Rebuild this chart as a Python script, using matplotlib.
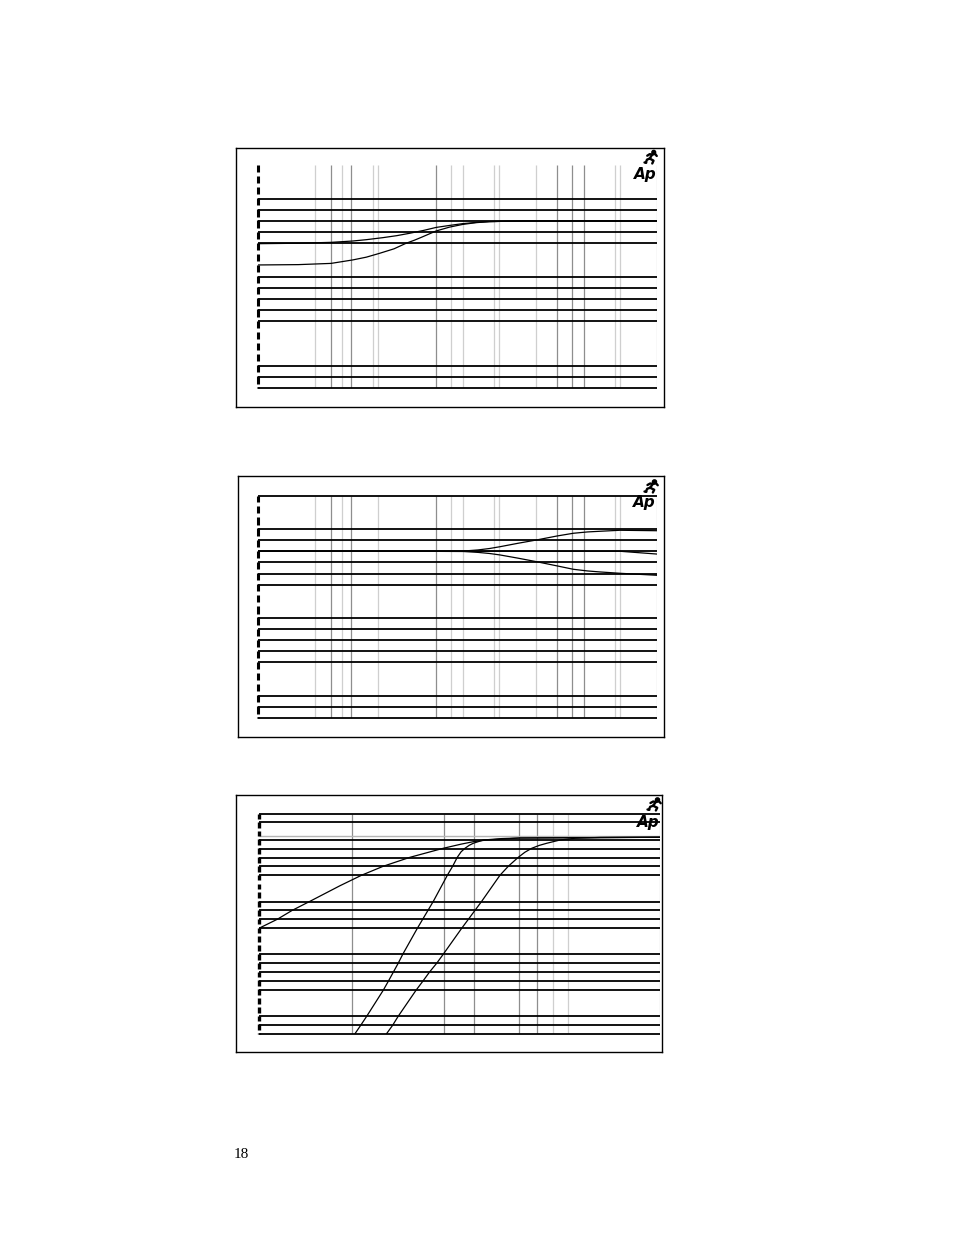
import matplotlib
matplotlib.use('Agg')
import matplotlib.pyplot as plt
import numpy as np

# ---- data (frequency in Hz, level in dB) ----
# panel 1: two low-frequency roll-off curves
p1_freq_a = [20, 40, 70.5, 102.6, 130, 172.6, 220, 274, 350, 435, 550, 690, 870, 1094, 1500, 2000, 20000]
p1_db_a = [-2.04, -2.0, -1.92, -1.80, -1.68, -1.50, -1.32, -1.11, -0.85, -0.58, -0.40, -0.24, -0.13,
           -0.06, -0.02, 0.0, 0.0]
p1_freq_b = [20, 40, 70.5, 102.6, 130, 163, 210, 258, 300, 340, 435, 550, 690, 870, 1094, 1500, 2000, 20000]
p1_db_b = [-3.95, -3.92, -3.81, -3.50, -3.25, -2.91, -2.5, -2.01, -1.72, -1.45, -0.90, -0.55, -0.31,
           -0.15, -0.06, -0.02, 0.0, 0.0]

# panel 2: high shelf boost / flat / cut
p2_freq = [20, 329, 697, 900, 1100, 1317, 1800, 2488, 3556, 4692, 6000, 7448, 10536, 20000]
p2_db_up = [0, 0, 0.02, 0.12, 0.25, 0.41, 0.72, 1.02, 1.38, 1.62, 1.74, 1.80, 1.89, 1.85]
p2_db_down = [0, 0, -0.02, -0.1, -0.2, -0.33, -0.62, -0.94, -1.32, -1.62, -1.77, -1.86, -1.98, -2.16]
p2_freq_flat = [20, 10536, 20000]
p2_db_flat = [0, 0, -0.25]

# panel 3: three high-pass curves
p3_freq_1 = [20, 27.4, 35.5, 48.1, 80.7, 117, 170, 270, 478, 650, 802, 1010, 1794, 20000]
p3_db_1 = [-10.53, -9.51, -8.49, -7.47, -5.70, -4.51, -3.49, -2.47, -1.45, -0.98, -0.70, -0.51, -0.28, -0.2]
p3_freq_2 = [104.5, 115.4, 127.9, 170, 185.5, 202, 220, 238, 306, 403, 513, 562, 609, 650, 695, 750, 802, 953,
             1300, 1794, 20000]
p3_db_2 = [-22.5, -21.54, -20.52, -17.57, -16.55, -15.53, -14.50, -13.48, -10.53, -7.47, -4.51, -3.49,
           -2.47, -1.85, -1.45, -1.1, -0.88, -0.51, -0.35, -0.28, -0.2]
p3_freq_3 = [180, 200, 220, 299, 336, 376, 427, 478, 657, 927, 1270, 1466, 1742, 1950, 2194, 2500, 2841, 3572,
             4626, 7114, 20000]
p3_db_3 = [-22.5, -21.54, -20.52, -17.57, -16.55, -15.53, -14.50, -13.48, -10.53, -7.47, -4.51, -3.49,
           -2.47, -1.9, -1.45, -1.12, -0.88, -0.51, -0.31, -0.22, -0.2]

# grid lines that survived the scan
p1_hgrid = [2, 1, 0, -1, -2, -5, -6, -7, -8, -9, -13, -14, -15]
p2_hgrid = [5, 2, 1, 0, -1, -2, -3, -6, -7, -8, -9, -10, -13, -14, -15]
p3_hgrid = [2.5, 1.5, -0.5, -1.5, -2.5, -3.5, -4.5, -7.5, -8.5, -9.5, -10.5, -13.5, -14.5, -15.5,
            -16.5, -17.5, -20.5, -21.5, -22.5]
p1_vdark = [70.1, 100.2, 436.8, 3556, 4610, 5676]
p1_vlight = [53.7, 85.7, 146.7, 159.9, 566.7, 697, 1194, 1301, 2472, 9714, 10590, 20000]
p2_vdark = [70.1, 100.2, 436.8, 3556, 4610, 5676]
p2_vlight = [53.7, 85.7, 159.9, 566.7, 697, 1194, 1301, 2472, 9714, 10590, 20000]
p3_vdark = [98.7, 486.8, 816, 1772, 2416]
p3_vlight = [3183, 4078, 20000]

W, H = 954, 1235
fig = plt.figure(figsize=(W / 100, H / 100), dpi=100)
fig.patch.set_facecolor('white')


def rect(left, top, right, bottom):
    return [left / W, 1 - bottom / H, (right - left) / W, (bottom - top) / H]


def runner(left, top, right, bottom):
    # little running man of the Audio Precision logo
    a = fig.add_axes(rect(left, top, right, bottom))
    a.set_xlim(0, 1)
    a.set_ylim(0, 1)
    a.axis('off')
    k = dict(color='black', lw=1.7, solid_capstyle='round', clip_on=False)
    a.add_patch(plt.Circle((0.74, 0.86), 0.15, color='black', clip_on=False))
    a.plot([0.62, 0.42], [0.70, 0.38], **k)
    a.plot([0.22, 0.42, 0.62, 0.85, 0.98], [0.60, 0.72, 0.68, 0.74, 0.58], **k)
    a.plot([0.42, 0.20, 0.10], [0.38, 0.30, 0.06], **k)
    a.plot([0.42, 0.72, 0.62], [0.38, 0.22, 0.0], **k)
    a.plot([0.0, 0.14], [0.08, 0.06], **k)


def panel(box, area, ylim, hgrid, vdark, vlight, curves, dash_w, ap_pos, run_box, ref_line):
    fr = fig.add_axes(rect(*box))
    fr.set_xticks([])
    fr.set_yticks([])
    fr.patch.set_alpha(0)
    for s in fr.spines.values():
        s.set_linewidth(1.0)
        s.set_color('black')

    ax = fig.add_axes(rect(*area))
    ax.set_xscale('log')
    ax.set_xlim(20, 20000)
    ax.set_ylim(*ylim)
    ax.axis('off')
    ax.patch.set_alpha(0)

    ax.vlines(vlight, ylim[0], ylim[1], color='#cfcfcf', lw=0.9, zorder=1)
    ax.vlines(vdark, ylim[0], ylim[1], color='#8e8e8e', lw=0.9, zorder=1)
    if ref_line:
        ax.hlines(0, 20, 20000, color='#b5b5b5', lw=1.0, zorder=2)
    ax.hlines(hgrid, 20, 20000, color='black', lw=1.3, zorder=3, clip_on=False)

    for fx, dy in curves:
        ax.plot(fx, dy, color='black', lw=0.9, zorder=4)

    # dashed left axis, one dash per division
    for u in np.arange(ylim[1], ylim[0] - 0.01, -1):
        ax.vlines(20, max(u - 0.6, ylim[0]), min(u + 0.05, ylim[1]), color='black',
                  lw=dash_w, clip_on=False, zorder=5)

    fig.text(ap_pos[0] / W, 1 - ap_pos[1] / H, 'Ap', fontsize=11, fontweight='heavy',
             fontstyle='italic', family='DejaVu Sans', ha='right', va='baseline')
    runner(*run_box)


panel(box=(236.5, 147.5, 663.7, 407), area=(258.3, 165.3, 657, 388), ylim=(-15, 5),
      hgrid=p1_hgrid, vdark=p1_vdark, vlight=p1_vlight,
      curves=[(p1_freq_a, p1_db_a), (p1_freq_b, p1_db_b)],
      dash_w=2.2, ap_pos=(656.5, 178.8), run_box=(644.5, 150.5, 657, 163.5),
      ref_line=False)

panel(box=(238.5, 476, 663.7, 737.3), area=(258.3, 495.7, 657, 718), ylim=(-15, 5),
      hgrid=p2_hgrid, vdark=p2_vdark, vlight=p2_vlight,
      curves=[(p2_freq, p2_db_up), (p2_freq, p2_db_down), (p2_freq_flat, p2_db_flat)],
      dash_w=2.2, ap_pos=(656, 507), run_box=(644.5, 480, 658, 492.5),
      ref_line=False)

panel(box=(235.7, 794.5, 662.5, 1052.3), area=(259, 813.5, 660, 1033.7), ylim=(-22.5, 2.5),
      hgrid=p3_hgrid, vdark=p3_vdark, vlight=p3_vlight,
      curves=[(p3_freq_1, p3_db_1), (p3_freq_2, p3_db_2), (p3_freq_3, p3_db_3)],
      dash_w=2.4, ap_pos=(659.5, 826.8), run_box=(647.5, 798, 661, 810.5),
      ref_line=True)

fig.text(234 / W, 1 - 1157.5 / H, '18', fontsize=11, family='Liberation Serif', va='baseline')

fig.savefig('out.png', dpi=100, facecolor='white')
